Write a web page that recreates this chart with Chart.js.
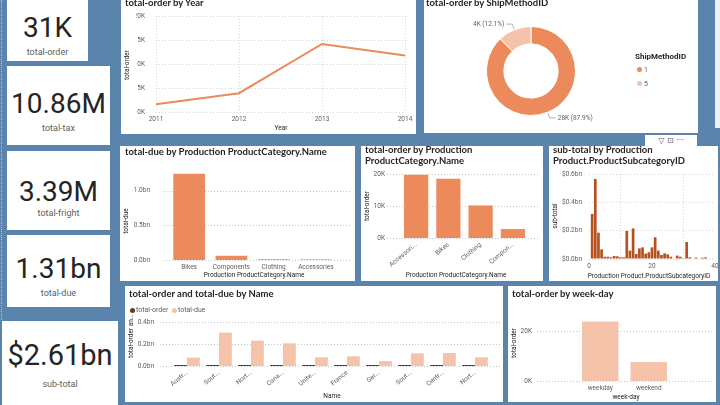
<!DOCTYPE html>
<html>
<head>
<meta charset="utf-8">
<script src="https://cdn.jsdelivr.net/npm/chart.js@4.4.1/dist/chart.umd.min.js"></script>
<style>
body{margin:0;width:720px;height:405px;background:#5a84ab;position:relative;overflow:hidden;font-family:Roboto,sans-serif}
.p{position:absolute;background:#fff}
.t{position:absolute;font:700 9.5px Lato,sans-serif;color:#252423;line-height:11px;white-space:nowrap}
.ax{position:absolute;font:6.5px Roboto,sans-serif;color:#252423;white-space:nowrap;transform:translate(-50%,-50%)}
.ay{position:absolute;font:6.5px Roboto,sans-serif;color:#252423;white-space:nowrap;transform:translate(-50%,-50%) rotate(-90deg)}
.kv{position:absolute;left:0;right:0;text-align:center;font:400 28px Roboto,sans-serif;line-height:28px;color:#252423}
.kl{position:absolute;left:0;right:0;text-align:center;font:9px Roboto,sans-serif;line-height:12px;color:#605e5c}
.lg{position:absolute;font:7px Roboto,sans-serif;color:#605e5c;white-space:nowrap;line-height:9px}
.dot{position:absolute;width:5px;height:5px;border-radius:50%}
canvas{position:absolute}
</style>
</head>
<body>
<!-- KPI cards -->
<div style="position:absolute;left:1px;top:0;width:0;height:320px;border-left:1px dotted rgba(255,255,255,.5)"></div>
<div class="p" style="left:7px;top:0;width:81px;height:61px"><div class="kv" style="top:14px">31K</div><div class="kl" style="top:46px">total-order</div></div>
<div class="p" style="left:7px;top:66px;width:103px;height:79px"><div class="kv" style="top:24px">10.86M</div><div class="kl" style="top:56px">total-tax</div></div>
<div class="p" style="left:7px;top:151px;width:103px;height:79px"><div class="kv" style="top:27px">3.39M</div><div class="kl" style="top:56px">total-fright</div></div>
<div class="p" style="left:7px;top:235px;width:103px;height:72px"><div class="kv" style="top:20px">1.31bn</div><div class="kl" style="top:52px">total-due</div></div>
<div class="p" style="left:2px;top:321px;width:116px;height:84px"><div class="kv" style="top:20px;font-size:29px;line-height:29px">$2.61bn</div><div class="kl" style="top:57px">sub-total</div></div>

<!-- panels -->
<div class="p" style="left:121px;top:0;width:295px;height:134px"></div>
<div class="p" style="left:424px;top:0;width:274px;height:133px"></div>
<div class="p" style="left:715px;top:0;width:5px;height:128px;background:#eef2f6"></div>
<div class="p" style="left:120px;top:146px;width:235px;height:135px"></div>
<div class="p" style="left:361px;top:146px;width:182px;height:135px"></div>
<div class="p" style="left:549px;top:146px;width:169px;height:135px"></div>
<div class="p" style="left:645px;top:135px;width:52px;height:11px;font:8px 'DejaVu Sans';color:#605e5c;text-align:center;line-height:11px">▽ ⊡ ···</div>
<div class="p" style="left:125px;top:286px;width:378px;height:116px"></div>
<div class="p" style="left:508px;top:286px;width:208px;height:116px"></div>

<canvas id="cYear" width="295" height="134" style="left:121px;top:0"></canvas>
<canvas id="cShip" width="274" height="133" style="left:424px;top:0"></canvas>
<canvas id="cDue" width="235" height="135" style="left:120px;top:146px"></canvas>
<canvas id="cCat" width="182" height="135" style="left:361px;top:146px"></canvas>
<canvas id="cSub" width="171" height="135" style="left:549px;top:146px"></canvas>
<canvas id="cName" width="378" height="116" style="left:125px;top:286px"></canvas>
<canvas id="cDay" width="208" height="116" style="left:508px;top:286px"></canvas>

<!-- titles -->
<div class="t" style="left:125px;top:-3px">total-order by Year</div>
<div class="t" style="left:426px;top:-3px">total-order by ShipMethodID</div>
<div class="t" style="left:125px;top:146px">total-due by Production ProductCategory.Name</div>
<div class="t" style="left:365px;top:144px">total-order by Production<br>ProductCategory.Name</div>
<div class="t" style="left:553px;top:144px">sub-total by Production<br>Product.ProductSubcategoryID</div>
<div class="t" style="left:129px;top:288px">total-order and total-due by Name</div>
<div class="t" style="left:512px;top:288px">total-order by week-day</div>

<!-- axis titles -->
<div class="ax" style="left:281px;top:128px">Year</div>
<div class="ay" style="left:127px;top:65px">total-order</div>
<div class="ax" style="left:254px;top:275px">Production ProductCategory.Name</div>
<div class="ay" style="left:126px;top:221px">total-due</div>
<div class="ax" style="left:456px;top:275px">Production ProductCategory.Name</div>
<div class="ay" style="left:367px;top:206px">total-order</div>
<div class="ax" style="left:649px;top:276px">Production Product.ProductSubcategoryID</div>
<div class="ay" style="left:555px;top:216px">sub-total</div>
<div class="ax" style="left:332px;top:396px">Name</div>
<div class="ay" style="left:131px;top:336px">total-order an...</div>
<div class="ax" style="left:626px;top:397px">week-day</div>
<div class="ay" style="left:514px;top:343px">total-order</div>

<!-- legends -->
<div class="lg" style="left:635px;top:52px;font-weight:700;font-size:8px;color:#252423">ShipMethodID</div>
<div class="dot" style="left:637px;top:67px;background:#ec8a5c"></div>
<div class="lg" style="left:644px;top:66px">1</div>
<div class="dot" style="left:637px;top:81px;background:#f4c3aa"></div>
<div class="lg" style="left:644px;top:80px">5</div>
<div class="dot" style="left:130px;top:308px;background:#6e3518"></div>
<div class="lg" style="left:136px;top:306px">total-order</div>
<div class="dot" style="left:172px;top:308px;background:#f4c3aa"></div>
<div class="lg" style="left:178px;top:306px">total-due</div>

<script>
// values
const years = ['2011', '2012', '2013', '2014'];
const ordersByYear = [1607, 3915, 14182, 11761];
const yearTicks = [0, 5000, 10000, 15000, 20000];

const shipMethods = ['1', '5'];
const ordersByShip = [27659, 3806];

const dueCategories = ['Bikes', 'Components', 'Clothing', 'Accessories'];
const dueByCategory = [1.246e9, 0.062e9, 0.011e9, 0.008e9];
const dueTicks = [0, 0.5e9, 1.0e9];

const orderCategories = ['Accessories', 'Bikes', 'Clothing', 'Components'];
const orderCategoryLabels = ['Accessori...', 'Bikes', 'Clothing', 'Compon...'];
const ordersByCategory = [19800, 18600, 10200, 2800];
const orderCategoryTicks = [0, 10000, 20000];

const subcategoryIds = [1, 2, 3, 4, 5, 6, 7, 8, 9, 10, 11, 12, 13, 14, 15, 16, 17, 18, 19,
  20, 21, 22, 23, 24, 25, 26, 27, 28, 29, 30, 31, 32, 34, 36, 37];
const subTotals = [0.318, 0.565, 0.186, 0.068, 0.016, 0.016, 0.012, 0.021, 0.019, 0.012, 0.012,
  0.198, 0.059, 0.216, 0.035, 0.075, 0.082, 0.038, 0.048, 0.082, 0.153, 0.059, 0.028, 0.040,
  0.033, 0.016, 0.004, 0.024, 0.016, 0.005, 0.120, 0.012, 0.010, 0.009, 0.012];
const subTicks = [0, 0.2e9, 0.4e9, 0.6e9];
const subIdTicks = [0, 20, 40];

const territories = ['Australia', 'Southwest', 'Northwest', 'Canada', 'United Kingdom',
  'France', 'Germany', 'Southeast', 'Central', 'Northeast'];
const territoryLabels = ['Austr...', 'Sout...', 'Nort...', 'Cana...', 'Unite...',
  'France', 'Ger...', 'Sout...', 'Centr...', 'Nort...'];
const ordersByTerritory = [6843, 6224, 4594, 4067, 3219, 2672, 2623, 486, 385, 352];
const dueByTerritory = [0.076e9, 0.303e9, 0.230e9, 0.206e9, 0.079e9, 0.088e9, 0.045e9, 0.115e9, 0.118e9, 0.079e9];
const territoryTicks = [0, 0.2e9, 0.4e9];

const dayTypes = ['weekday', 'weekend'];
const ordersByDayType = [23850, 7615];
const dayTicks = [0, 20000];

const orange = '#ec8a5c', peach = '#f4c3aa', rust = '#b5511f', brown = '#6e3518';

Chart.defaults.font.family = 'Roboto';
Chart.defaults.font.size = 6.5;
Chart.defaults.color = '#605e5c';
Chart.defaults.animation = false;
Chart.defaults.responsive = false;
Chart.defaults.plugins.legend.display = false;
Chart.defaults.plugins.tooltip.enabled = false;

// dotted horizontal grid drawn wider than the plot, like Power BI does
Chart.register({
  id: 'spanGrid',
  beforeDatasetsDraw(chart, args, opts) {
    if (!opts.to) return;
    const ctx = chart.ctx, y = chart.scales.y;
    ctx.save();
    ctx.strokeStyle = '#c8c6c4';
    ctx.lineWidth = 1;
    ctx.setLineDash([1, 2]);
    y.ticks.forEach(t => {
      const py = Math.round(y.getPixelForValue(t.value)) + 0.5;
      ctx.beginPath();
      ctx.moveTo(opts.from, py);
      ctx.lineTo(opts.to, py);
      ctx.stroke();
    });
    ctx.restore();
  }
});

// fixed axis sizes; drop the label overhang padding chart.js adds on its own
const fixW = w => s => { s.width = w; s.paddingTop = 4; s.paddingBottom = 4; };
const fixH = h => s => { s.height = h; s.paddingLeft = 0; s.paddingRight = 0; };
const useTicks = list => s => { s.ticks = list.map(v => ({ value: v })); };
const bn = v => (v / 1e9).toFixed(1) + 'bn';
const kfmt = v => (v / 1000) + 'K';
const dotted = { display: false, dash: [1, 2] };

function barChart(id, labels, datasets, o) {
  return new Chart(document.getElementById(id), {
    type: 'bar',
    data: { labels, datasets },
    options: {
      layout: { padding: o.pad },
      plugins: { spanGrid: { from: o.grid[0], to: o.grid[1] } },
      scales: {
        x: {
          grid: { display: false, drawTicks: false }, border: { display: false },
          afterFit: fixH(o.xH),
          ticks: { padding: 3, autoSkip: false, maxRotation: o.rot || 0, minRotation: o.rot || 0,
                   callback: (v, i) => (o.xLabels || labels)[i] }
        },
        y: {
          min: 0, max: o.yMax,
          grid: { display: false, drawTicks: false }, border: { display: false },
          afterFit: fixW(o.yW), afterBuildTicks: useTicks(o.yTicks),
          ticks: { padding: o.yPad, callback: o.fmt }
        }
      }
    }
  });
}

// line: total-order by Year
new Chart(document.getElementById('cYear'), {
  type: 'line',
  data: { labels: years, datasets: [{ data: ordersByYear, borderColor: orange, borderWidth: 2, pointRadius: 0, tension: 0 }] },
  options: {
    layout: { padding: { left: 15, right: 11, top: 16, bottom: 0 } },
    scales: {
      x: { offset: false, grid: { color: '#d6d4d2', drawTicks: false }, border: dotted,
           afterFit: fixH(22), ticks: { padding: 3 } },
      y: { min: 0, max: 20000, grid: { color: '#d6d4d2', drawTicks: false }, border: dotted,
           afterFit: fixW(20), afterBuildTicks: useTicks(yearTicks), ticks: { padding: 11, callback: kfmt } }
    }
  }
});

// doughnut: total-order by ShipMethodID
new Chart(document.getElementById('cShip'), {
  type: 'doughnut',
  data: { labels: shipMethods, datasets: [{ data: ordersByShip, backgroundColor: [orange, peach], borderColor: '#fff', borderWidth: 1, hoverOffset: 0 }] },
  options: {
    cutout: '61%',
    layout: { padding: { left: 62, right: 122, top: 26, bottom: 17 } }
  },
  plugins: [{
    id: 'donutLabels',
    afterDraw(chart) {
      const ctx = chart.ctx;
      const total = ordersByShip.reduce((a, b) => a + b, 0);
      chart.getDatasetMeta(0).data.forEach((arc, i) => {
        const p = arc.getProps(['x', 'y', 'startAngle', 'endAngle', 'outerRadius'], true);
        const mid = (p.startAngle + p.endAngle) / 2;
        const c = Math.cos(mid), s = Math.sin(mid);
        const x0 = p.x + c * (p.outerRadius + 1), y0 = p.y + s * (p.outerRadius + 1);
        const x1 = p.x + c * (p.outerRadius + 6), y1 = p.y + s * (p.outerRadius + 6);
        const dir = c >= 0 ? 1 : -1;
        const x2 = x1 + dir * 6;
        ctx.save();
        ctx.strokeStyle = '#a19f9d';
        ctx.lineWidth = 0.8;
        ctx.beginPath();
        ctx.moveTo(x0, y0); ctx.lineTo(x1, y1); ctx.lineTo(x2, y1);
        ctx.stroke();
        ctx.fillStyle = '#605e5c';
        ctx.font = '6.5px Roboto';
        ctx.textBaseline = 'middle';
        ctx.textAlign = dir > 0 ? 'left' : 'right';
        const v = ordersByShip[i];
        ctx.fillText(Math.round(v / 1000) + 'K (' + (v / total * 100).toFixed(1) + '%)', x2 + dir * 2, y1);
        ctx.restore();
      });
    }
  }]
});

// bars: total-due by category
barChart('cDue', dueCategories,
  [{ data: dueByCategory, backgroundColor: orange, categoryPercentage: 1, barPercentage: 0.75 }],
  { pad: { left: 0, right: 18, top: 24, bottom: 0 }, grid: [43, 231], xH: 21, yW: 48, yPad: 18,
    yMax: 1.3e9, yTicks: dueTicks, fmt: bn });

// bars: total-order by category
barChart('cCat', orderCategories,
  [{ data: ordersByCategory, backgroundColor: orange, categoryPercentage: 1, barPercentage: 0.75 }],
  { pad: { left: 0, right: 14, top: 25, bottom: 0 }, grid: [26, 179], xH: 43, yW: 39, yPad: 15,
    yMax: 21000, yTicks: orderCategoryTicks, fmt: kfmt, rot: 40, xLabels: orderCategoryLabels });

// bars on a numeric axis: sub-total by subcategory id
new Chart(document.getElementById('cSub'), {
  type: 'bar',
  data: { datasets: [{ data: subcategoryIds.map((id, i) => ({ x: id, y: subTotals[i] * 1e9 })),
                       backgroundColor: rust, categoryPercentage: 1, barPercentage: 0.85 }] },
  options: {
    layout: { padding: { left: 0, right: 5, top: 28, bottom: 0 } },
    scales: {
      x: { type: 'linear', min: 0, max: 40, offset: false, grid: { color: '#d6d4d2', drawTicks: false }, border: dotted,
           afterFit: fixH(22), afterBuildTicks: useTicks(subIdTicks), ticks: { padding: 3 } },
      y: { min: 0, max: 0.6e9, grid: { color: '#d6d4d2', drawTicks: false }, border: dotted,
           afterFit: fixW(40), afterBuildTicks: useTicks(subTicks), ticks: { padding: 7, callback: v => '$' + bn(v) } }
    }
  }
});

// grouped bars: total-order and total-due by Name
barChart('cName', territories,
  [{ data: ordersByTerritory, backgroundColor: brown, minBarLength: 1, categoryPercentage: 0.8, barPercentage: 1 },
   { data: dueByTerritory, backgroundColor: peach, categoryPercentage: 0.8, barPercentage: 1 }],
  { pad: { left: 0, right: 12, top: 36, bottom: 0 }, grid: [35, 377], xH: 36, yW: 46, yPad: 17,
    yMax: 0.4e9, yTicks: territoryTicks, fmt: bn, rot: 40, xLabels: territoryLabels });

// bars: total-order by week-day
barChart('cDay', dayTypes,
  [{ data: ordersByDayType, backgroundColor: peach, categoryPercentage: 1, barPercentage: 0.75 }],
  { pad: { left: 0, right: 43, top: 30, bottom: 0 }, grid: [29, 205], xH: 21, yW: 68, yPad: 44,
    yMax: 26000, yTicks: dayTicks, fmt: kfmt });
</script>
</body>
</html>
